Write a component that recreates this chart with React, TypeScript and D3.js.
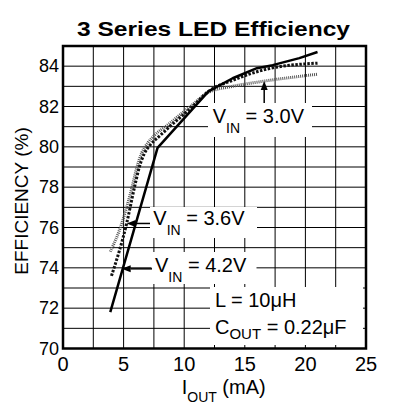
import React from 'react';
import { scaleLinear, line, curveMonotoneX, range } from 'd3';

// I_OUT (mA) / efficiency (%)
const iout42 = [3.9, 7.8, 12, 14, 16, 17.3, 19.5, 21];
const eff42 = [71.8, 79.95, 82.75, 83.4, 83.9, 84.05, 84.4, 84.7];

const iout36 = [4.0, 5.25, 5.9, 6.3, 6.7, 7.2, 7.9, 8.8, 10.7, 12, 14, 16.8, 21];
const eff36 = [73.6, 76.2, 78.0, 79.0, 79.65, 80.1, 80.5, 81.0, 82.0, 82.75, 83.3, 83.85, 84.15];

const iout30 = [3.9, 4.85, 5.25, 5.7, 6.1, 6.5, 7.0, 7.6, 8.55, 10.5, 12, 14, 16.5, 21];
const eff30 = [74.8, 76.2, 77.0, 78.0, 79.0, 79.7, 80.2, 80.6, 81.05, 82.0, 82.7, 83.0, 83.25, 83.6];

const xTicks = [0, 5, 10, 15, 20, 25];
const yTicks = [70, 72, 74, 76, 78, 80, 82, 84];

// where the annotation arrows point
const arrow30 = [16.6, 83.27];
const arrow36 = [5.25, 76.2];
const arrow42 = [4.84, 73.95];

const font = '"Liberation Sans", Arial, sans-serif';

function Arrow({ x1, y1, x2, y2 }) {
  // head at (x2, y2)
  const a = Math.atan2(y2 - y1, x2 - x1);
  const len = 9;
  const half = 3.5;
  const bx = x2 - len * Math.cos(a);
  const by = y2 - len * Math.sin(a);
  const px = -Math.sin(a) * half;
  const py = Math.cos(a) * half;
  return (
    <g>
      <line x1={x1} y1={y1} x2={bx} y2={by} stroke="#000" strokeWidth={1.5} />
      <path d={`M${x2},${y2}L${bx + px},${by + py}L${bx - px},${by - py}Z`} fill="#000" />
    </g>
  );
}

function VinLabel({ x, y, v }) {
  return (
    <text x={x} y={y} fontSize={20} fontFamily={font} fill="#000">
      V
      <tspan dy={10} fontSize={14}>IN</tspan>
      <tspan dy={-10}>{` = ${v}`}</tspan>
    </text>
  );
}

export default function App() {
  const x = scaleLinear().domain([0, 25]).range([63, 366]);
  const y = scaleLinear().domain([70, 85]).range([348.5, 46]);

  const gen = line().x((d) => x(d[0])).y((d) => y(d[1]));
  const smooth = line().x((d) => x(d[0])).y((d) => y(d[1])).curve(curveMonotoneX);

  const d42 = gen(iout42.map((v, i) => [v, eff42[i]]));
  const d36 = smooth(iout36.map((v, i) => [v, eff36[i]]));
  const d30 = smooth(iout30.map((v, i) => [v, eff30[i]]));

  const xGrid = range(0, 25.01, 2.5);
  const yGrid = range(70, 85.01, 1);

  return (
    <svg width={396} height={420} style={{ position: 'absolute', left: 0, top: 0, background: '#fff' }}>
      <rect width={396} height={420} fill="#fff" />

      <text x={77} y={36} fontSize={21} fontWeight="bold" fontFamily={font} textLength={273} lengthAdjust="spacingAndGlyphs">
        3 Series LED Efficiency
      </text>

      {/* grid */}
      {xGrid.map((v) => (
        <line key={'gx' + v} x1={x(v)} x2={x(v)} y1={y(85)} y2={y(70)} stroke="#000" strokeWidth={1} />
      ))}
      {yGrid.map((v) => (
        <line key={'gy' + v} x1={x(0)} x2={x(25)} y1={y(v)} y2={y(v)} stroke="#000" strokeWidth={1} />
      ))}

      {/* label boxes hide the grid */}
      <rect x={208} y={103} width={104} height={34} fill="#fff" />
      <rect x={150} y={207} width={107} height={31} fill="#fff" />
      <rect x={151.5} y={252} width={105} height={32} fill="#fff" />
      <rect x={210} y={287} width={153} height={58} fill="#fff" />

      {/* curves */}
      <path d={d30} fill="none" stroke="#555" strokeWidth={3} strokeDasharray="1,1" />
      <path d={d36} fill="none" stroke="#111" strokeWidth={3} strokeDasharray="2.5,1.5" />
      <path d={d42} fill="none" stroke="#000" strokeWidth={2.5} strokeLinejoin="round" />

      {/* frame */}
      <rect x={x(0)} y={y(85)} width={x(25) - x(0)} height={y(70) - y(85)} fill="none" stroke="#000" strokeWidth={2.5} />

      {/* ticks */}
      {xTicks.map((v) => (
        <text key={'tx' + v} x={x(v)} y={371} fontSize={20} fontFamily={font} textAnchor="middle">
          {v}
        </text>
      ))}
      {yTicks.map((v) => (
        <text key={'ty' + v} x={59} y={y(v)} dy="0.35em" fontSize={18} fontFamily={font} textAnchor="end">
          {v}
        </text>
      ))}

      {/* axis titles */}
      <text x={181.7} y={394} fontSize={20} fontFamily={font}>
        I
        <tspan dy={8} fontSize={14}>OUT</tspan>
        <tspan dy={-8}> (mA)</tspan>
      </text>
      <text transform="translate(28,201) rotate(-90)" fontSize={19} fontFamily={font} textAnchor="middle" fill="#000">
        EFFICIENCY (%)
      </text>

      {/* annotations */}
      <VinLabel x={212.7} y={123.3} v="3.0V" />
      <Arrow x1={x(arrow30[0])} y1={103} x2={x(arrow30[0])} y2={y(arrow30[1])} />

      <VinLabel x={153.3} y={225} v="3.6V" />
      <Arrow x1={150} y1={y(arrow36[1])} x2={x(arrow36[0])} y2={y(arrow36[1])} />

      <VinLabel x={155} y={271.7} v="4.2V" />
      <Arrow x1={152} y1={y(arrow42[1])} x2={x(arrow42[0])} y2={y(arrow42[1])} />

      <text x={215} y={307.3} fontSize={20} fontFamily={font}>
        L = 10μH
      </text>
      <text x={215} y={334} fontSize={20} fontFamily={font}>
        C
        <tspan dy={4.5} fontSize={15}>OUT</tspan>
        <tspan dy={-4.5}> = 0.22μF</tspan>
      </text>
    </svg>
  );
}
